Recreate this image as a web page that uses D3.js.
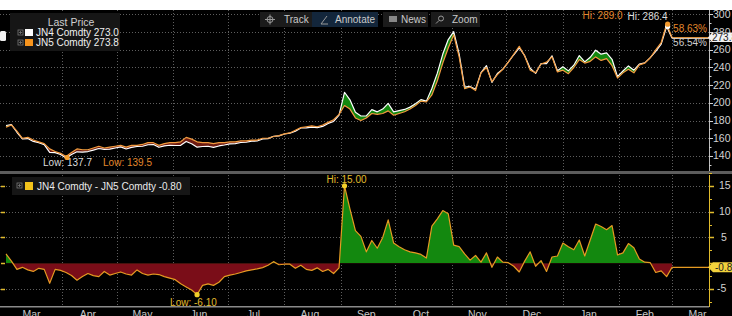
<!DOCTYPE html>
<html><head><meta charset="utf-8">
<script src="https://cdn.jsdelivr.net/npm/d3@7"></script>
<style>
body{margin:0;background:#fff;}
svg{display:block;}
text{font-family:"Liberation Sans",Arial,sans-serif;}
</style></head>
<body><svg id="c" width="732" height="316"></svg>
<script>
// ---------------- DATA ----------------
const startDate = "2023-03-01";
const stepDays = 3;
const endDate = "2024-03-21";
const seriesNames = ["JN4 Comdty", "JN5 Comdty"];
const jn5 = [172.6,175,168,160,161,158,156,154,148,145,143,139.5,144,148,147,147,149,151,149,150,
  151,152,150,152,152,153,155,155,152,154,155,155,156,161,159,156,155,155,154,155,
  155,156,156,157,157,158,158,160,160,162,163,165,166,169,172,173,174,173,175,178,
  181,187,197,193,183,180,183,188,187,188,191,186,188,190,193,197,202,201,209,225,
  245,262,277,252,216,218,214,234,240,224,232,238,246,255,264,253,237,234,244,246,
  252,235,237,233,240,249,245,247,252,248,250,242,228,234,238,234,243,245,251,260,
  268,289,273.8];
const spread = [1.8,0.4,-1.2,-0.8,-1.3,-1.6,-1.0,-1.2,-3.9,-1.2,-1.4,-1.8,-2.4,-3.3,-2.6,-2.0,-2.4,-2.6,-1.6,-2.3,
  -2.0,-1.7,-2.1,-2.3,-1.3,-2.0,-2.3,-2.1,-2.2,-2.6,-2.9,-3.2,-4.0,-4.6,-5.2,-6.1,-4.3,-4.0,-4.3,-3.7,
  -2.6,-2.3,-2.1,-1.8,-1.5,-1.3,-1.1,-0.85,-0.4,0.3,-0.3,-0.2,-0.2,-1.0,-0.4,-1.2,-1.4,-0.9,-1.6,-1.2,
  -2.0,-0.9,15.0,10.5,6.3,5.2,2.2,4.4,2.9,5.0,8.4,3.9,3.2,2.6,2.2,2.0,1.7,1.0,7.2,8.6,
  10.2,9.6,3.5,3.2,1.8,0.6,1.5,0.2,2.0,-0.8,1.2,0.2,0.1,-0.6,-1.7,0.4,2.2,-0.6,0.5,-1.6,
  1.2,1.4,3.9,3.2,2.6,4.5,1.4,4.5,7.6,7.1,6.5,7.3,1.6,2.0,3.8,3.0,0.8,0.2,0.1,-1.8,
  -1.5,-2.6,-0.8];
const monthLabels = ["Mar","Apr","May","Jun","Jul","Aug","Sep","Oct","Nov","Dec","Jan","Feb","Mar"];
const priceTicks = [140,160,180,200,220,240,260,280,300];
const spreadTicks = [-5,0,5,10,15];
const spreadLabels = [-5,5,10,15];
const toolbarItems = ["Track","Annotate","News","Zoom"];

// ---------------- SETUP ----------------
const W = 732, H = 316;
const svg = d3.select("#c");
const parse = d3.utcParse("%Y-%m-%d");
const t0 = parse(startDate);
const data = jn5.map((v, i) => ({
  d: d3.utcDay.offset(t0, i * stepDays),
  b: v,
  s: spread[i],
  a: Math.round((v + spread[i]) * 10) / 10
}));
const last = data[data.length - 1];

const x = d3.scaleUtc().domain([t0, parse(endDate)]).range([6, 708.5]);
const yM = d3.scaleLinear().domain([123, 305]).range([171, 10]);
const yS = d3.scaleLinear().domain([-8.3, 17.1]).range([306, 175]);
const AX = 709;

const C = {
  grid: "#5e5e5e", axisTxt: "#d2d2d2", jn4: "#ffffff", jn5: "#f29a3f", jn5txt: "#e3882c",
  spreadLine: "#e59a22", gold: "#e0bb2c", green: "#13880f", red: "#7a0d18", redBand: "#6e1b12"
};

svg.append("rect").attr("width", W).attr("height", H).attr("fill", "#fff");
svg.append("rect").attr("y", 10).attr("width", W).attr("height", H - 10).attr("fill", "#000");

const defs = svg.append("defs");
defs.append("clipPath").attr("id", "cpMain").append("rect")
  .attr("x", 0).attr("y", 10).attr("width", AX).attr("height", 161);
defs.append("clipPath").attr("id", "cpLow").append("rect")
  .attr("x", 0).attr("y", 175).attr("width", AX).attr("height", 131);

// ---------------- GRIDS ----------------
const monthStarts = d3.utcMonth.range(d3.utcMonth.offset(t0, 1), d3.utcDay.offset(parse(endDate), 1));
const grid = svg.append("g").attr("stroke", C.grid).attr("stroke-dasharray", "1,2").attr("stroke-width", 1);
monthStarts.forEach(m => {
  const xx = Math.round(x(m)) + 0.5;
  grid.append("line").attr("x1", xx).attr("x2", xx).attr("y1", 10).attr("y2", 171);
  grid.append("line").attr("x1", xx).attr("x2", xx).attr("y1", 175).attr("y2", 306);
});
priceTicks.forEach(v => {
  const yy = Math.round(yM(v)) + 0.5;
  grid.append("line").attr("x1", 0).attr("x2", AX).attr("y1", yy).attr("y2", yy);
});
spreadTicks.filter(v => v !== 0).forEach(v => {
  const yy = Math.round(yS(v)) + 0.5;
  grid.append("line").attr("x1", 0).attr("x2", AX).attr("y1", yy).attr("y2", yy);
});

// ---------------- MAIN PANEL ----------------
const gMain = svg.append("g").attr("clip-path", "url(#cpMain)");
const above = d3.area().x(d => x(d.d)).y0(10).y1(d => yM(d.b));
const below = d3.area().x(d => x(d.d)).y0(d => yM(d.b)).y1(171);
defs.append("clipPath").attr("id", "cpAbove").append("path").attr("d", above(data));
defs.append("clipPath").attr("id", "cpBelow").append("path").attr("d", below(data));
const band = d3.area().x(d => x(d.d)).y0(d => yM(d.b)).y1(d => yM(d.a));
gMain.append("g").attr("clip-path", "url(#cpAbove)").append("path").attr("d", band(data)).attr("fill", C.green);
gMain.append("g").attr("clip-path", "url(#cpBelow)").append("path").attr("d", band(data)).attr("fill", C.redBand);

const lineA = d3.line().x(d => x(d.d)).y(d => yM(d.a));
const lineB = d3.line().x(d => x(d.d)).y(d => yM(d.b));
gMain.append("line").attr("x1", x(last.d)).attr("x2", AX).attr("y1", yM(last.a)).attr("y2", yM(last.a))
  .attr("stroke", C.jn4).attr("stroke-width", 1);
gMain.append("line").attr("x1", x(last.d)).attr("x2", AX).attr("y1", yM(last.b)).attr("y2", yM(last.b))
  .attr("stroke", "#d89040").attr("stroke-width", 1.3);
gMain.append("path").attr("d", lineA(data)).attr("fill", "none").attr("stroke", C.jn4)
  .attr("stroke-width", 1.2).attr("stroke-linejoin", "round");
gMain.append("path").attr("d", lineB(data)).attr("fill", "none").attr("stroke", C.jn5)
  .attr("stroke-width", 1.2).attr("stroke-linejoin", "round");

// main separator
svg.append("rect").attr("x", 0).attr("y", 171).attr("width", W).attr("height", 3).attr("fill", "#5c5c5c");

// main right axis
const axM = svg.append("g");
axM.append("line").attr("x1", AX + 0.5).attr("x2", AX + 0.5).attr("y1", 10).attr("y2", 171).attr("stroke", "#bdbdbd");
d3.range(130, 306, 10).forEach(v => {
  const major = priceTicks.includes(v);
  axM.append("line").attr("x1", AX).attr("x2", AX + (major ? 4 : 2.5))
    .attr("y1", Math.round(yM(v)) + 0.5).attr("y2", Math.round(yM(v)) + 0.5).attr("stroke", "#d0d0d0");
});
priceTicks.forEach(v => {
  axM.append("text").attr("x", 713).attr("y", yM(v) + 3.5).attr("fill", C.axisTxt)
    .attr("font-size", 10.5).text(v);
});

// last value tag main
const ly = yM(last.b);
svg.append("path").attr("d", `M${AX-1},${ly} L${AX+3},${ly-5} L${W+2},${ly-5} L${W+2},${ly+4.5} L${AX+3},${ly+4.5} Z`)
  .attr("fill", "#f2f2f2");
svg.append("text").attr("x", 712).attr("y", ly + 3.5).attr("fill", "#222").attr("font-size", 10).text(last.b.toFixed(1));

// percentage changes
const pctA = (last.a / data[0].a - 1) * 100;
const pctB = (last.b / data[0].b - 1) * 100;
svg.append("text").attr("x", 707).attr("y", 32).attr("text-anchor", "end").attr("fill", C.jn5txt)
  .attr("font-size", 10).text(pctB.toFixed(2) + "%");
svg.append("text").attr("x", 707).attr("y", 46).attr("text-anchor", "end").attr("fill", "#cfcfcf")
  .attr("font-size", 10).text(pctA.toFixed(2) + "%");

// Hi / Low annotations main
const hiB = data.reduce((m, d) => d.b > m.b ? d : m);
const hiA = data.reduce((m, d) => d.a > m.a ? d : m);
const loB = data.reduce((m, d) => d.b < m.b ? d : m);
const loA = data.reduce((m, d) => d.a < m.a ? d : m);
svg.append("text").attr("x", x(hiA.d) + 1).attr("y", 20).attr("text-anchor", "end").attr("fill", "#dcdcdc")
  .attr("font-size", 10).text("Hi: " + hiA.a.toFixed(1));
svg.append("text").attr("x", x(hiB.d) - 44).attr("y", 19).attr("text-anchor", "end").attr("fill", C.jn5txt)
  .attr("font-size", 10).text("Hi: " + hiB.b.toFixed(1));
svg.append("circle").attr("cx", x(hiA.d) + 1).attr("cy", yM(hiA.a)).attr("r", 2.6).attr("fill", "#fff");
svg.append("circle").attr("cx", x(hiB.d) + 1).attr("cy", yM(hiB.b)).attr("r", 2.6).attr("fill", "#f39a2e");
svg.append("text").attr("x", x(loA.d) - 23).attr("y", 166).attr("fill", "#dcdcdc")
  .attr("font-size", 10).text("Low: " + loA.a.toFixed(1));
svg.append("text").attr("x", x(loB.d) + 37).attr("y", 166).attr("fill", C.jn5txt)
  .attr("font-size", 10).text("Low: " + loB.b.toFixed(1));
svg.append("circle").attr("cx", x(loB.d) + 1).attr("cy", yM(loB.a) - 0.5).attr("r", 2.6).attr("fill", "#f5a030");

// ---------------- LOWER PANEL ----------------
const gLow = svg.append("g").attr("clip-path", "url(#cpLow)");
const z = yS(0);
defs.append("clipPath").attr("id", "cpPos").append("rect").attr("x", 0).attr("y", 175).attr("width", AX).attr("height", z - 175);
defs.append("clipPath").attr("id", "cpNeg").append("rect").attr("x", 0).attr("y", z).attr("width", AX).attr("height", 306 - z);
const sArea = d3.area().x(d => x(d.d)).y0(z).y1(d => yS(d.s));
gLow.append("g").attr("clip-path", "url(#cpPos)").append("path").attr("d", sArea(data)).attr("fill", C.green);
gLow.append("g").attr("clip-path", "url(#cpNeg)").append("path").attr("d", sArea(data)).attr("fill", C.red);
gLow.append("line").attr("x1", x(last.d)).attr("x2", AX).attr("y1", yS(last.s)).attr("y2", yS(last.s))
  .attr("stroke", C.spreadLine).attr("stroke-width", 1.3);
gLow.append("path").attr("d", d3.line().x(d => x(d.d)).y(d => yS(d.s))(data)).attr("fill", "none")
  .attr("stroke", C.spreadLine).attr("stroke-width", 1.2).attr("stroke-linejoin", "round");

// lower axis (right)
const axS = svg.append("g");
axS.append("line").attr("x1", AX + 0.5).attr("x2", AX + 0.5).attr("y1", 175).attr("y2", 307).attr("stroke", C.gold);
d3.range(-7.5, 17.6, 2.5).forEach(v => {
  const major = v % 5 === 0;
  const yy = Math.round(yS(v)) + 0.5;
  axS.append("line").attr("x1", AX).attr("x2", AX + (major ? 5 : 3)).attr("y1", yy).attr("y2", yy)
    .attr("stroke", C.gold).attr("stroke-width", major ? 1.5 : 1);
  if (major) axS.append("line").attr("x1", 1).attr("x2", 5).attr("y1", yy).attr("y2", yy)
    .attr("stroke", C.gold).attr("stroke-width", 1.5);
});
spreadLabels.forEach(v => {
  axS.append("text").attr("x", v < 0 ? 717 : (v >= 10 ? 719 : 721)).attr("y", yS(v) + 3.5)
    .attr("fill", C.axisTxt).attr("font-size", 10.5).text(v);
});
// last value tag lower
const sy = yS(last.s);
svg.append("path").attr("d", `M${AX-1},${sy} L${AX+4},${sy-5} L${W+2},${sy-5} L${W+2},${sy+5} L${AX+4},${sy+5} Z`)
  .attr("fill", "#f2d23c");
svg.append("text").attr("x", 715).attr("y", sy + 3.5).attr("fill", "#222").attr("font-size", 10).text(last.s.toFixed(2));

// Hi/Low spread
const hiS = data.reduce((m, d) => d.s > m.s ? d : m);
const loS = data.reduce((m, d) => d.s < m.s ? d : m);
svg.append("text").attr("x", x(hiS.d) - 18).attr("y", 183).attr("fill", C.gold).attr("font-size", 10)
  .text("Hi: " + hiS.s.toFixed(2));
svg.append("circle").attr("cx", x(hiS.d)).attr("cy", yS(hiS.s)).attr("r", 2.6).attr("fill", "#f3d02a");
svg.append("text").attr("x", x(loS.d) - 27).attr("y", 306).attr("fill", C.gold).attr("font-size", 10)
  .text("Low: " + loS.s.toFixed(2));
svg.append("circle").attr("cx", x(loS.d)).attr("cy", yS(loS.s)).attr("r", 2.6).attr("fill", "#f3d02a");

// bottom axis
svg.append("rect").attr("x", 0).attr("y", 306).attr("width", AX).attr("height", 1.5).attr("fill", "#8a8a8a");
const monthsAll = d3.utcMonth.range(t0, d3.utcDay.offset(parse(endDate), 1));
monthsAll.forEach((m, i) => {
  svg.append("text").attr("x", x(d3.utcDay.offset(m, 14))).attr("y", 317.5).attr("text-anchor", "middle")
    .attr("fill", "#c8c8c8").attr("font-size", 10.5).text(monthLabels[i]);
});

// ---------------- LEGENDS ----------------
function boxIcon(g, xx, yy) {
  g.append("rect").attr("x", xx).attr("y", yy).attr("width", 5).attr("height", 5)
    .attr("fill", "none").attr("stroke", "#777").attr("stroke-width", 0.8);
  g.append("line").attr("x1", xx + 1).attr("x2", xx + 4).attr("y1", yy + 2.5).attr("y2", yy + 2.5).attr("stroke", "#777").attr("stroke-width", 0.8);
  g.append("line").attr("x1", xx + 2.5).attr("x2", xx + 2.5).attr("y1", yy + 1).attr("y2", yy + 4).attr("stroke", "#777").attr("stroke-width", 0.8);
}
const lg = svg.append("g");
lg.append("rect").attr("x", 10).attr("y", 13).attr("width", 110).attr("height", 38).attr("fill", "#161616");
lg.append("text").attr("x", 71).attr("y", 26).attr("text-anchor", "middle").attr("fill", "#cfcfcf")
  .attr("font-size", 10.5).text("Last Price");
[[last.a, C.jn4], [last.b, "#f7941d"]].forEach((r, i) => {
  const yy = 29 + i * 10;
  boxIcon(lg, 18, yy + 1);
  lg.append("rect").attr("x", 25).attr("y", yy).attr("width", 8).attr("height", 7).attr("fill", r[1]);
  lg.append("text").attr("x", 36).attr("y", yy + 7).attr("fill", "#f0f0f0").attr("font-size", 10)
    .text(seriesNames[i] + " " + r[0].toFixed(1));
});
svg.append("rect").attr("x", 0).attr("y", 31).attr("width", 6).attr("height", 10).attr("rx", 1.5).attr("fill", "#eee");

const lg2 = svg.append("g");
lg2.append("rect").attr("x", 12).attr("y", 177).attr("width", 178).attr("height", 18).attr("fill", "#161616");
boxIcon(lg2, 17, 183);
lg2.append("rect").attr("x", 25).attr("y", 182).attr("width", 8).attr("height", 8).attr("fill", "#f2c21b");
lg2.append("text").attr("x", 37).attr("y", 190).attr("fill", "#eaeaea").attr("font-size", 10)
  .text(seriesNames[0] + " - " + seriesNames[1] + " " + last.s.toFixed(2));

// ---------------- TOOLBAR ----------------
const tb = svg.append("g");
const tbBoxes = [[260, 52, "#1b1b1b"], [312, 66, "#13263b"], [383, 45, "#1b1b1b"], [431, 49, "#1b1b1b"]];
const tbText = [284, 335, 401, 452];
toolbarItems.forEach((t, i) => {
  const b = tbBoxes[i];
  tb.append("rect").attr("x", b[0]).attr("y", 12).attr("width", b[1]).attr("height", 15).attr("fill", b[2]);
  tb.append("text").attr("x", tbText[i]).attr("y", 23).attr("fill", "#c9c9c9").attr("font-size", 10).text(t);
});
// icons
tb.append("circle").attr("cx", 270).attr("cy", 19.5).attr("r", 3).attr("fill", "none").attr("stroke", "#999");
tb.append("line").attr("x1", 265).attr("x2", 275).attr("y1", 19.5).attr("y2", 19.5).attr("stroke", "#999");
tb.append("line").attr("x1", 270).attr("x2", 270).attr("y1", 14.5).attr("y2", 24.5).attr("stroke", "#999");
tb.append("line").attr("x1", 321).attr("x2", 327).attr("y1", 24).attr("y2", 16).attr("stroke", "#999");
tb.append("line").attr("x1", 321).attr("x2", 328).attr("y1", 24).attr("y2", 24).attr("stroke", "#999");
tb.append("rect").attr("x", 389).attr("y", 16).attr("width", 8).attr("height", 6).attr("fill", "#888");
tb.append("circle").attr("cx", 441).attr("cy", 18.5).attr("r", 2.5).attr("fill", "none").attr("stroke", "#999");
tb.append("line").attr("x1", 439).attr("x2", 436).attr("y1", 20.5).attr("y2", 23.5).attr("stroke", "#999");
</script>
</body></html>
